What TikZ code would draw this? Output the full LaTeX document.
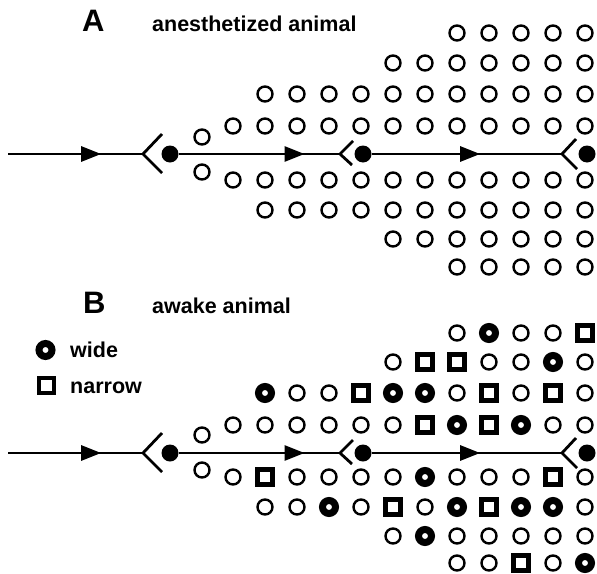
\documentclass[tikz,border=0pt]{standalone}
\usepackage{fontspec}
\setmainfont{Liberation Sans}
\usetikzlibrary{arrows.meta,decorations.markings,calc}
\begin{document}
\begin{tikzpicture}[x=1pt,y=-1pt,
  ring/.style={circle,draw,line width=2.4pt,minimum size=15pt,inner sep=0pt},
  wring/.style={circle,draw,line width=7pt,minimum size=13pt,inner sep=0pt},
  nsq/.style={rectangle,draw,line width=4.8pt,minimum size=15pt,inner sep=0pt},
  soma/.style={circle,fill,minimum size=17pt,inner sep=0pt},
  axon/.style={line width=2.8pt},
  chev/.style={line width=2.8pt},
  lbl/.style={font=\bfseries\fontsize{21.5}{25}\selectfont,anchor=base west,inner sep=0pt},
  big/.style={font=\bfseries\fontsize{31}{35}\selectfont,anchor=base west,inner sep=0pt},
  midarrow/.style={postaction={decorate},decoration={markings,mark=at position #1 with {\arrow{Triangle[length=20pt,width=15pt]}}}}
]
\useasboundingbox (0,0) rectangle (597,573);

% titles and legend
\node[big] (A) at (82,31) {A};
\node[lbl] (ta) at (152,31) {anesthetized animal};
\node[big] (B) at (83,313) {B};
\node[lbl] (tb) at (152,313) {awake animal};
\node[wring] (lw) at (45.5,350) {};
\node[lbl] (tw) at (70,357) {wide};
\node[nsq] (ln) at (46.5,385.5) {};
\node[lbl] (tn) at (70,393) {narrow};

% panel A grid
\foreach \r/\y/\c/\n in {1/33/7/11, 2/63/5/11, 3/94/1/11, 4/126/0/11, 5/180/0/11, 6/210/1/11, 7/239/5/11, 8/267/7/11}{
  \foreach \k in {\c,...,\n}{
    \node[ring] (a-\r-\k) at ({233+32*\k},\y) {};
  }
}
\node[ring] (a-o1) at (202,137) {};
\node[ring] (a-o2) at (202,172) {};

% panel B grid
\foreach \r/\y/\c/\types in {
  1/333/7/{ring,wring,ring,ring,nsq},
  2/362/5/{ring,nsq,nsq,ring,ring,wring,ring},
  3/393/1/{wring,ring,ring,nsq,wring,wring,ring,nsq,ring,nsq,ring},
  4/425/0/{ring,ring,ring,ring,ring,ring,nsq,wring,nsq,wring,ring,ring},
  5/477/0/{ring,nsq,ring,ring,ring,ring,wring,ring,ring,ring,nsq,ring},
  6/507/1/{ring,ring,wring,ring,nsq,ring,wring,nsq,wring,wring,ring},
  7/536/5/{ring,wring,ring,ring,ring,ring,ring},
  8/563/7/{ring,ring,nsq,ring,wring}}{
  \foreach \t [count=\i from \c] in \types{
    \node[\t] (b-\r-\i) at ({233+32*\i},\y) {};
  }
}
\node[ring] (b-o1) at (202,435) {};
\node[ring] (b-o2) at (202,470) {};

% axons
\foreach \p/\y in {a/154,b/453}{
  \coordinate (\p s) at (8,\y);
  \coordinate (\p c1) at (143,\y);
  \node[soma] (\p d1) at (170,\y) {};
  \coordinate (\p c2) at (340,\y);
  \node[soma] (\p d2) at (363,\y) {};
  \coordinate (\p c3) at (562,\y);
  \node[soma] (\p d3) at (587,\y) {};
  \draw[axon,midarrow=0.69] (\p s) -- (\p c1);
  \draw[axon,midarrow=0.78] (\p d1) -- (\p c2);
  \draw[axon,midarrow=0.57] (\p d2) -- (\p c3);
  \draw[chev] ($(\p c1)+(19,-20)$) -- (\p c1) -- ($(\p c1)+(19,19)$);
  \draw[chev] ($(\p c2)+(13,-13)$) -- (\p c2) -- ($(\p c2)+(12,11)$);
  \draw[chev] ($(\p c3)+(14,-15)$) -- (\p c3) -- ($(\p c3)+(15,15)$);
}
\end{tikzpicture}
\end{document}
